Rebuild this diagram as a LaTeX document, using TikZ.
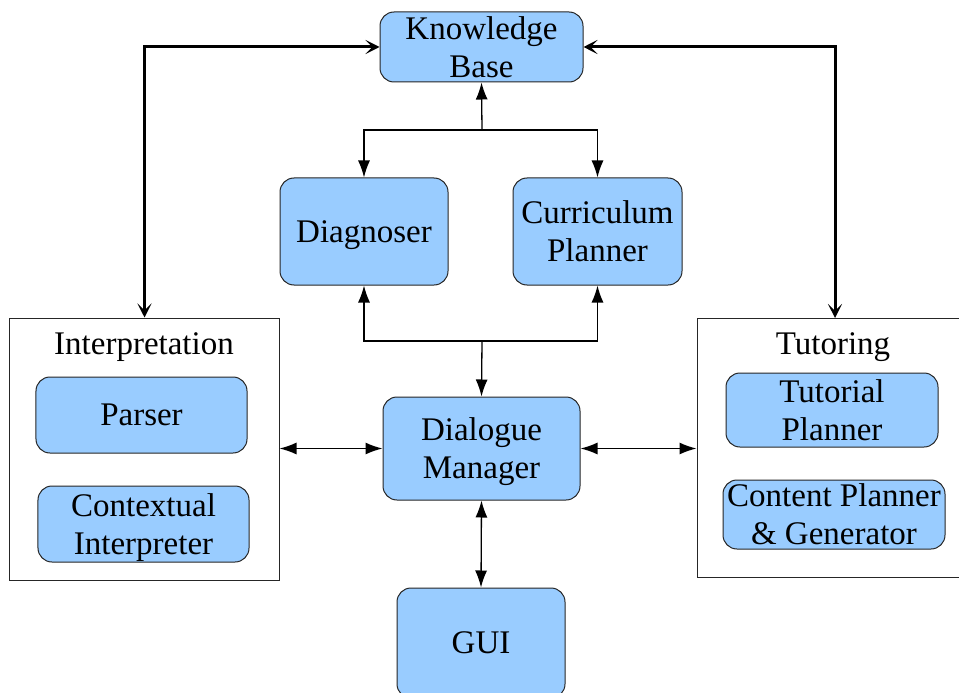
\documentclass[tikz,border=0pt]{standalone}
\usepackage{fontspec}
\setmainfont{Liberation Serif}
\usetikzlibrary{arrows.meta}
\definecolor{boxblue}{HTML}{99CCFF}
\begin{document}
\begin{tikzpicture}[x=1bp,y=-1bp,
  bluebox/.style={draw=black!85, line width=1bp, fill=boxblue, rounded corners=14bp, align=center,
     inner sep=0pt, text depth=0pt, font=\fontsize{33bp}{38bp}\selectfont},
  groupbox/.style={draw=black!85, line width=1bp, fill=white, inner sep=0pt},
  thinarrow/.style={line width=1.3bp, -{Latex[length=17bp,width=12bp]}},
  thinboth/.style={line width=1.3bp, {Latex[length=17bp,width=12bp]}-{Latex[length=17bp,width=12bp]}},
  thickboth/.style={line width=3bp, {Stealth[length=14bp,width=14bp,inset=7bp]}-{Stealth[length=14bp,width=14bp,inset=7bp]}},
  titletext/.style={font=\fontsize{33bp}{38bp}\selectfont, inner sep=0pt, text depth=0pt}
]
\useasboundingbox (0,0) rectangle (959,693);
\clip (0,0) rectangle (959,693);
% group boxes
\node[groupbox, minimum width=269bp, minimum height=262bp] (interp) at (144.5,449) {};
\node[groupbox, minimum width=275bp, minimum height=259bp] (tut) at (834.5,447.5) {};
\node[titletext] (interpt) at (144,344) {Interpretation};
\node[titletext] (tutt) at (833,344) {Tutoring};
% blue boxes
\node[bluebox, minimum width=203bp, minimum height=70bp] (kb) at (481.5,47) {Knowledge\\Base};
\node[bluebox, minimum width=168bp, minimum height=107bp] (diag) at (364,231.5) {Diagnoser};
\node[bluebox, minimum width=169bp, minimum height=107bp] (cur) at (597.5,231.5) {Curriculum\\Planner};
\node[bluebox, minimum width=197bp, minimum height=103bp] (dm) at (481.5,448.5) {Dialogue\\Manager};
\node[bluebox, minimum width=168bp, minimum height=110bp] (gui) at (481,643) {GUI};
\node[bluebox, minimum width=211bp, minimum height=76bp] (parser) at (141.5,415) {Parser};
\node[bluebox, minimum width=211bp, minimum height=76bp] (ctx) at (143.5,524) {Contextual\\Interpreter};
\node[bluebox, minimum width=212bp, minimum height=74bp] (tplan) at (832,410) {Tutorial\\Planner};
\node[bluebox, minimum width=222bp, minimum height=69bp] (cpg) at (834,514.5) {Content Planner\\\& Generator};
% thick connectors
\coordinate (rtop) at (835,47);
\coordinate (rbot) at (835,318);
\draw[thickboth] (interp.north) |- (kb.west);
\draw[thickboth] (rbot) -- (rtop) -- (kb.east);
% thin connectors
\coordinate (kbj) at (482,130);
\coordinate (dmj) at (482,341);
\draw[thinarrow] (kbj) -- (kb.south);
\draw[thinarrow] (kbj) -| (diag.north);
\draw[thinarrow] (kbj) -| (cur.north);
\draw[thinarrow] (dmj) -| (diag.south);
\draw[thinarrow] (dmj) -| (cur.south);
\draw[thinarrow] (dmj) -- (dm.north);
\draw[thinboth] (interp.east |- dm.west) -- (dm.west);
\draw[thinboth] (dm.east) -- (tut.west |- dm.east);
\draw[thinboth] (dm.south) -- (gui.north);
\end{tikzpicture}
\end{document}
